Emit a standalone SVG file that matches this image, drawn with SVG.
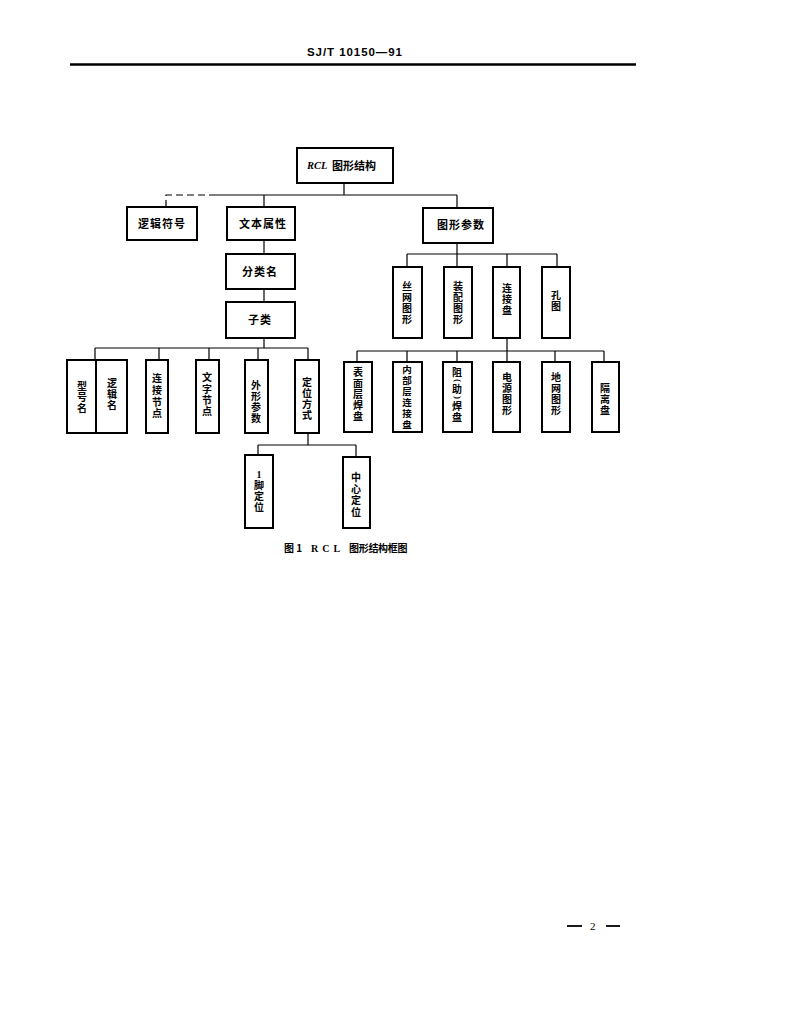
<svg xmlns="http://www.w3.org/2000/svg" width="809" height="1024" viewBox="0 0 809 1024">
<style>
.box{fill:#fff;stroke:#000;stroke-width:2}
.t{font-family:"Noto Sans CJK SC","Liberation Serif",serif;font-size:11px;font-weight:bold;fill:#000;text-anchor:middle}
.v{font-family:"Noto Sans CJK SC","Liberation Serif",serif;font-size:10px;font-weight:bold;fill:#000;text-anchor:middle}
.p{font-family:"Liberation Serif",serif;font-size:9px;font-weight:bold;fill:#000;text-anchor:middle}
.c{fill:none;stroke:#000;stroke-width:1.2}
</style>
<rect width="809" height="1024" fill="#fff"/>
<g id="header">
<text x="307" y="56" font-family="Liberation Sans, sans-serif" font-size="11.5" font-weight="bold" textLength="95">SJ/T 10150—91</text>
<line x1="70" y1="64.5" x2="636" y2="64.5" stroke="#000" stroke-width="2.5"/>
</g>
<g id="connectors">
<path class="c" d="M344 183V195M215 195H457M264 195V207M457 195V208"/>
<path class="c" d="M166 207V195H215" stroke-dasharray="7 4"/>
<path class="c" d="M264 240V254M264 289V302M264 338V348M95 348H308M95 348V360M159 348V360M209 348V360M258 348V360M308 348V360"/>
<path class="c" d="M457 243V254M407 254H557M407 254V267M457 254V267M507 254V267M557 254V267"/>
<path class="c" d="M507 338V351M357 351H604M357 351V362M407 351V362M457 351V362M507 351V362M555 351V362M604 351V362"/>
<path class="c" d="M308 433V445M258 445H356M258 445V455M356 445V457"/>
</g>
<g id="n-rcl"><rect class="box" x="297" y="148" width="96" height="35"/>
<text x="307" y="169" font-family="Liberation Serif, serif" font-style="italic" font-weight="bold" font-size="10.5">RCL</text>
<text class="t" x="332" y="170" style="text-anchor:start">图形结构</text></g>
<g id="n-luojifuhao"><rect class="box" x="127" y="207" width="70" height="33"/><text class="t" x="162" y="228" letter-spacing="1">逻辑符号</text></g>
<g id="n-wenbenshuxing"><rect class="box" x="227" y="207" width="68" height="33"/><text class="t" x="263" y="228" letter-spacing="1">文本属性</text></g>
<g id="n-tuxingcanshu"><rect class="box" x="423" y="208" width="70" height="35"/><text class="t" x="461" y="229" letter-spacing="1">图形参数</text></g>
<g id="n-fenleiming"><rect class="box" x="226" y="254" width="69" height="35"/><text class="t" x="260" y="276" letter-spacing="1">分类名</text></g>
<g id="n-zilei"><rect class="box" x="226" y="302" width="69" height="36"/><text class="t" x="260" y="324" letter-spacing="1">子类</text></g>

<g id="n-xinghaoming"><rect class="box" x="67" y="360" width="29" height="73"/>
<text class="v"><tspan x="82" y="390">型</tspan><tspan x="82" y="401">号</tspan><tspan x="82" y="412">名</tspan></text></g>
<g id="n-luojiming"><rect class="box" x="96" y="360" width="31" height="73"/>
<text class="v"><tspan x="112" y="387">逻</tspan><tspan x="112" y="398">辑</tspan><tspan x="112" y="409">名</tspan></text></g>
<g id="n-lianjiejiedian"><rect class="box" x="146" y="360" width="22" height="73"/>
<text class="v"><tspan x="157" y="382">连</tspan><tspan x="157" y="394">接</tspan><tspan x="157" y="406">节</tspan><tspan x="157" y="417">点</tspan></text></g>
<g id="n-wenzijiedian"><rect class="box" x="196" y="360" width="23" height="73"/>
<text class="v"><tspan x="207" y="381">文</tspan><tspan x="207" y="393">字</tspan><tspan x="207" y="404">节</tspan><tspan x="207" y="415">点</tspan></text></g>
<g id="n-waixingcanshu"><rect class="box" x="245" y="360" width="23" height="73"/>
<text class="v"><tspan x="256" y="389">外</tspan><tspan x="256" y="400">形</tspan><tspan x="256" y="411">参</tspan><tspan x="256" y="422">数</tspan></text></g>
<g id="n-dingweifangshi"><rect class="box" x="295" y="360" width="24" height="73"/>
<text class="v"><tspan x="307" y="386">定</tspan><tspan x="307" y="397">位</tspan><tspan x="307" y="408">方</tspan><tspan x="307" y="419">式</tspan></text></g>

<g id="n-siwangtuxing"><rect class="box" x="393" y="267" width="29" height="71"/>
<text class="v"><tspan x="407" y="290">丝</tspan><tspan x="407" y="301">网</tspan><tspan x="407" y="312">图</tspan><tspan x="407" y="323">形</tspan></text></g>
<g id="n-zhuangpeituxing"><rect class="box" x="444" y="267" width="28" height="71"/>
<text class="v"><tspan x="458" y="290">装</tspan><tspan x="458" y="301">配</tspan><tspan x="458" y="312">图</tspan><tspan x="458" y="323">形</tspan></text></g>
<g id="n-lianjiepan"><rect class="box" x="493" y="267" width="27" height="71"/>
<text class="v"><tspan x="507" y="292">连</tspan><tspan x="507" y="303">接</tspan><tspan x="507" y="314">盘</tspan></text></g>
<g id="n-kongtu"><rect class="box" x="542" y="267" width="28" height="71"/>
<text class="v"><tspan x="556" y="299">孔</tspan><tspan x="556" y="310">图</tspan></text></g>

<g id="n-biaomiancenghanpan"><rect class="box" x="344" y="362" width="28" height="70"/>
<text class="v"><tspan x="358" y="376">表</tspan><tspan x="358" y="387">面</tspan><tspan x="358" y="398">层</tspan><tspan x="358" y="409">焊</tspan><tspan x="358" y="420">盘</tspan></text></g>
<g id="n-neibucenglianjiepan"><rect class="box" x="393" y="362" width="29" height="70"/>
<text class="v" style="font-size:9.5px"><tspan x="407" y="373">内</tspan><tspan x="407" y="384">部</tspan><tspan x="407" y="395">层</tspan><tspan x="407" y="406">连</tspan><tspan x="407" y="417">接</tspan><tspan x="407" y="428">盘</tspan></text></g>
<g id="n-zuzhuhanpan"><rect class="box" x="443" y="362" width="29" height="70"/>
<text class="v"><tspan x="457" y="376">阻</tspan></text>
<text class="p" x="457" y="383" transform="rotate(90 457 380.5)">(</text>
<text class="v"><tspan x="457" y="393">助</tspan></text>
<text class="p" x="457" y="400" transform="rotate(90 457 397.5)">)</text>
<text class="v"><tspan x="457" y="410">焊</tspan><tspan x="457" y="421">盘</tspan></text></g>
<g id="n-dianyuantuxing"><rect class="box" x="493" y="362" width="27" height="70"/>
<text class="v"><tspan x="507" y="381">电</tspan><tspan x="507" y="392">源</tspan><tspan x="507" y="403">图</tspan><tspan x="507" y="414">形</tspan></text></g>
<g id="n-diwangtuxing"><rect class="box" x="542" y="362" width="28" height="70"/>
<text class="v"><tspan x="556" y="381">地</tspan><tspan x="556" y="392">网</tspan><tspan x="556" y="403">图</tspan><tspan x="556" y="414">形</tspan></text></g>
<g id="n-gelipan"><rect class="box" x="592" y="362" width="27" height="70"/>
<text class="v"><tspan x="605" y="392">隔</tspan><tspan x="605" y="403">离</tspan><tspan x="605" y="414">盘</tspan></text></g>

<g id="n-1jiaodingwei"><rect class="box" x="245" y="455" width="28" height="73"/>
<text class="v"><tspan x="259" y="478" font-family="Liberation Serif, serif">1</tspan><tspan x="259" y="489">脚</tspan><tspan x="259" y="500">定</tspan><tspan x="259" y="511">位</tspan></text></g>
<g id="n-zhongxindingwei"><rect class="box" x="343" y="457" width="27" height="71"/>
<text class="v"><tspan x="356" y="481">中</tspan><tspan x="356" y="492.5">心</tspan><tspan x="356" y="504">定</tspan><tspan x="356" y="515.5">位</tspan></text></g>

<g id="caption" font-family="Noto Sans CJK SC, Liberation Serif, serif" font-size="10" font-weight="bold">
<text x="284" y="552">图 1</text>
<text x="311" y="552" font-family="Liberation Serif, serif" letter-spacing="4">RCL</text>
<text x="349" y="552" letter-spacing="-0.3">图形结构框图</text>
</g>
<g id="footer">
<line x1="567" y1="926" x2="582" y2="926" stroke="#000" stroke-width="1.8"/>
<text x="590" y="930" font-family="Liberation Serif, serif" font-size="11">2</text>
<line x1="606" y1="926" x2="620" y2="926" stroke="#000" stroke-width="1.8"/>
</g>
</svg>
